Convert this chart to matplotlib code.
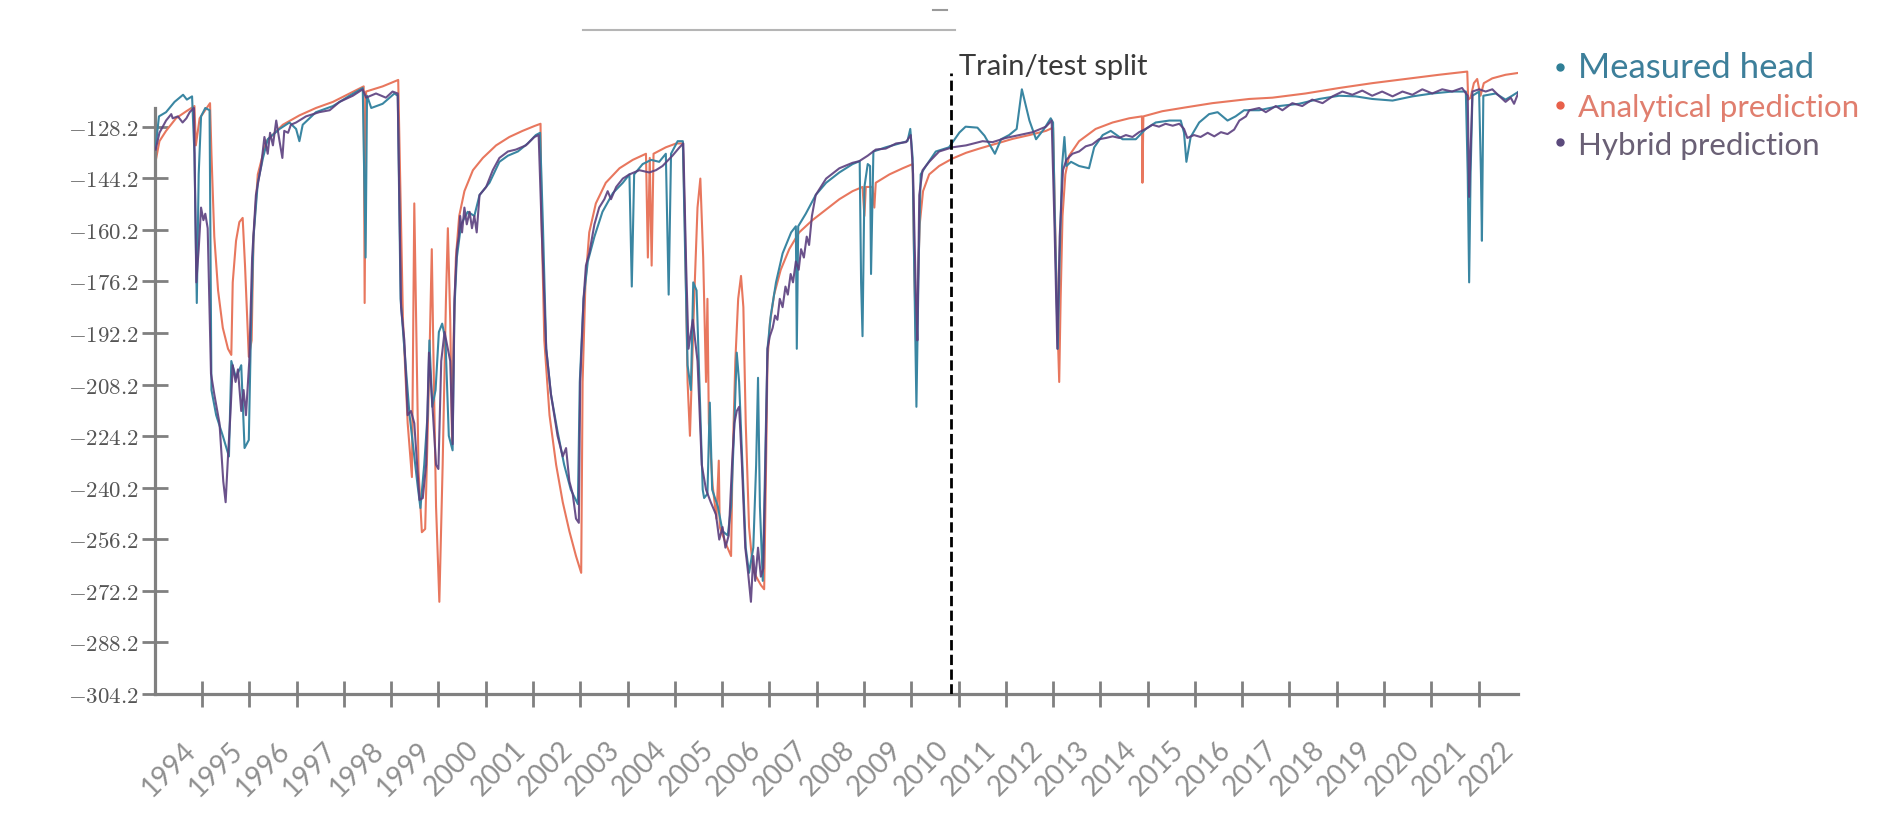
import matplotlib.pyplot as plt
from matplotlib.lines import Line2D

plt.rcParams['mathtext.fontset'] = 'cm'

# ---- data (x in axis-year units) ----
measured_year = [
    1993.02, 1993.09, 1993.24, 1993.42, 1993.60, 1993.68, 1993.79, 1993.84, 1993.89, 1993.93,
    1993.98, 1994.07, 1994.16, 1994.20, 1994.30, 1994.44, 1994.57, 1994.62, 1994.72, 1994.83,
    1994.90, 1994.99, 1995.04, 1995.09, 1995.18, 1995.29, 1995.39, 1995.64, 1995.85, 1995.99,
    1996.06, 1996.13, 1996.41, 1996.77, 1997.12, 1997.40, 1997.46, 1997.49, 1997.58, 1997.82,
    1998.07, 1998.14, 1998.20, 1998.28, 1998.39, 1998.56, 1998.62, 1998.70, 1998.77, 1998.81,
    1998.87, 1998.94, 1999.01, 1999.08, 1999.15, 1999.22, 1999.30, 1999.34, 1999.39, 1999.48,
    1999.62, 1999.76, 1999.87, 2000.08, 2000.29, 2000.47, 2000.68, 2000.89, 2001.06, 2001.15,
    2001.21, 2001.28, 2001.38, 2001.52, 2001.66, 2001.80, 2001.95, 2001.99, 2002.07, 2002.16,
    2002.30, 2002.47, 2002.69, 2002.90, 2003.04, 2003.09, 2003.14, 2003.32, 2003.50, 2003.67,
    2003.81, 2003.87, 2003.92, 2004.06, 2004.17, 2004.22, 2004.27, 2004.34, 2004.39, 2004.46,
    2004.53, 2004.59, 2004.62, 2004.69, 2004.74, 2004.79, 2004.91, 2005.01, 2005.12, 2005.19,
    2005.26, 2005.31, 2005.36, 2005.43, 2005.50, 2005.57, 2005.66, 2005.72, 2005.76, 2005.80,
    2005.86, 2005.91, 2005.96, 2006.03, 2006.14, 2006.28, 2006.46, 2006.56, 2006.58, 2006.61,
    2006.77, 2006.98, 2007.20, 2007.48, 2007.76, 2007.91, 2007.94, 2007.97, 2008.01, 2008.08,
    2008.13, 2008.15, 2008.20, 2008.46, 2008.75, 2008.92, 2008.98, 2009.03, 2009.06, 2009.11,
    2009.16, 2009.20, 2009.31, 2009.52, 2009.80, 2010.02, 2010.15, 2010.40, 2010.55, 2010.77,
    2010.90, 2011.07, 2011.23, 2011.34, 2011.50, 2011.64, 2011.81, 2011.95, 2012.00, 2012.04,
    2012.10, 2012.14, 2012.19, 2012.24, 2012.28, 2012.38, 2012.55, 2012.76, 2012.87, 2013.05,
    2013.22, 2013.47, 2013.75, 2013.96, 2014.17, 2014.46, 2014.70, 2014.77, 2014.82, 2014.91,
    2015.09, 2015.30, 2015.48, 2015.69, 2015.86, 2016.04, 2016.36, 2016.78, 2017.20, 2017.63,
    2018.05, 2018.40, 2018.75, 2019.18, 2019.60, 2020.02, 2020.44, 2020.73, 2020.77, 2020.80,
    2020.83, 2020.87, 2021.01, 2021.05, 2021.07, 2021.10, 2021.36, 2021.57, 2021.71, 2021.85]
measured_head = [
    -134.6, -125.0, -123.7, -120.5, -118.3, -119.8, -118.8, -136.6, -182.9, -143.0,
    -125.0, -122.4, -123.1, -209.9, -217.7, -224.1, -230.5, -200.9, -206.1, -202.2,
    -227.9, -225.4, -188.1, -162.3, -145.6, -137.9, -132.1, -128.9, -126.9, -128.9,
    -132.7, -127.6, -123.7, -121.8, -118.6, -116.2, -168.8, -118.6, -122.4, -121.1,
    -117.9, -118.6, -181.6, -197.1, -217.7, -239.5, -246.5, -233.1, -217.7, -194.5,
    -215.1, -209.9, -191.9, -189.3, -194.5, -224.1, -228.6, -184.2, -168.8, -158.5,
    -154.6, -155.9, -149.4, -145.6, -139.1, -137.2, -135.9, -133.4, -130.8, -130.1,
    -158.5, -197.1, -211.2, -222.8, -233.1, -240.8, -245.3, -207.4, -181.6, -170.0,
    -162.3, -154.6, -148.8, -145.6, -143.0, -177.8, -143.0, -139.8, -138.5, -139.1,
    -136.6, -180.3, -136.6, -132.7, -132.7, -168.8, -202.2, -209.9, -176.5, -179.0,
    -212.5, -240.8, -243.4, -242.1, -213.8, -240.8, -246.0, -253.7, -255.0, -246.0,
    -220.2, -198.3, -207.4, -233.1, -258.8, -266.6, -258.8, -233.1, -206.1, -246.0,
    -269.1, -233.1, -197.1, -186.8, -176.5, -167.5, -161.0, -159.1, -197.1, -159.1,
    -155.2, -149.4, -145.6, -142.4, -139.8, -138.9, -176.5, -193.2, -146.9, -139.8,
    -140.4, -173.9, -135.9, -134.6, -133.4, -132.7, -128.9, -137.9, -168.8, -215.1,
    -168.8, -143.0, -140.4, -135.9, -134.6, -130.0, -128.2, -128.5, -131.0, -136.6,
    -132.1, -130.8, -128.9, -116.6, -126.3, -132.1, -128.9, -125.6, -126.9, -158.5,
    -197.1, -168.8, -140.4, -131.4, -140.4, -139.1, -140.4, -141.1, -134.6, -130.8,
    -129.5, -132.1, -132.1, -128.9, -126.9, -126.3, -126.3, -130.1, -139.1, -131.4,
    -126.9, -124.3, -123.7, -126.3, -125.0, -123.1, -123.1, -121.8, -121.1, -119.6,
    -118.6, -118.8, -119.6, -120.1, -118.8, -117.9, -117.3, -117.3, -143.0, -176.5,
    -143.0, -118.6, -117.3, -143.0, -163.6, -118.6, -117.9, -119.8, -118.6, -117.3]

analytical_year = [
    1993.00, 1993.10, 1993.24, 1993.45, 1993.67, 1993.84, 1993.87, 1993.95, 1994.17, 1994.20,
    1994.26, 1994.34, 1994.44, 1994.55, 1994.62, 1994.65, 1994.72, 1994.79, 1994.86, 1994.91,
    1994.99, 1995.05, 1995.09, 1995.18, 1995.36, 1995.71, 1996.06, 1996.41, 1996.77, 1997.12,
    1997.42, 1997.44, 1997.47, 1997.82, 1998.15, 1998.19, 1998.25, 1998.35, 1998.44, 1998.49,
    1998.53, 1998.58, 1998.65, 1998.72, 1998.80, 1998.86, 1998.89, 1998.95, 1999.02, 1999.09,
    1999.16, 1999.20, 1999.25, 1999.29, 1999.32, 1999.37, 1999.44, 1999.55, 1999.73, 1999.94,
    2000.22, 2000.50, 2000.78, 2001.03, 2001.16, 2001.18, 2001.24, 2001.35, 2001.49, 2001.63,
    2001.77, 2001.91, 2002.02, 2002.05, 2002.11, 2002.19, 2002.33, 2002.54, 2002.83, 2003.11,
    2003.39, 2003.43, 2003.47, 2003.51, 2003.55, 2003.81, 2004.03, 2004.17, 2004.21, 2004.27,
    2004.32, 2004.41, 2004.48, 2004.54, 2004.60, 2004.66, 2004.69, 2004.72, 2004.80, 2004.88,
    2004.93, 2004.95, 2005.08, 2005.19, 2005.22, 2005.28, 2005.34, 2005.40, 2005.45, 2005.50,
    2005.57, 2005.65, 2005.72, 2005.82, 2005.89, 2005.93, 2005.96, 2006.01, 2006.10, 2006.24,
    2006.42, 2006.63, 2006.91, 2007.20, 2007.48, 2007.76, 2007.97, 2008.01, 2008.04, 2008.18,
    2008.22, 2008.25, 2008.54, 2008.82, 2009.03, 2009.06, 2009.10, 2009.13, 2009.18, 2009.25,
    2009.38, 2009.59, 2009.87, 2010.16, 2010.44, 2010.79, 2011.14, 2011.50, 2011.85, 2012.00,
    2012.04, 2012.09, 2012.13, 2012.16, 2012.20, 2012.26, 2012.34, 2012.55, 2012.90, 2013.26,
    2013.61, 2013.88, 2013.89, 2013.91, 2014.31, 2014.81, 2015.37, 2016.15, 2016.64, 2017.34,
    2018.05, 2018.75, 2019.46, 2020.16, 2020.76, 2020.78, 2020.83, 2020.90, 2020.97, 2021.04,
    2021.11, 2021.29, 2021.57, 2021.85]
analytical_head = [
    -140.4, -132.7, -129.5, -125.6, -123.4, -121.8, -134.0, -125.6, -120.9, -136.6,
    -162.3, -179.0, -190.6, -197.1, -199.0, -176.5, -163.6, -157.8, -156.5, -171.3,
    -199.6, -194.5, -162.3, -143.0, -132.7, -127.6, -124.7, -122.4, -120.5, -117.9,
    -115.7, -182.9, -117.3, -115.7, -113.7, -143.0, -188.0, -220.2, -236.9, -152.0,
    -188.0, -235.0, -254.0, -253.0, -207.4, -166.2, -194.5, -246.0, -275.6, -233.1,
    -181.6, -159.7, -188.1, -226.7, -194.5, -168.8, -155.9, -148.2, -141.7, -137.9,
    -134.0, -131.4, -129.5, -128.0, -127.3, -155.9, -194.5, -217.7, -233.1, -244.7,
    -253.7, -261.4, -266.6, -207.4, -176.5, -161.0, -152.0, -145.6, -141.1, -138.5,
    -136.6, -168.8, -137.9, -171.3, -136.6, -134.6, -133.4, -133.4, -155.9, -207.4,
    -224.1, -181.6, -153.3, -144.3, -168.8, -207.4, -181.6, -220.2, -239.5, -249.8,
    -231.8, -252.4, -257.6, -261.4, -233.1, -200.9, -181.6, -174.5, -184.2, -220.2,
    -252.4, -265.3, -267.8, -270.4, -271.7, -233.1, -200.9, -189.3, -180.3, -172.6,
    -166.2, -161.0, -157.2, -153.9, -150.7, -148.2, -146.9, -155.9, -146.9, -146.9,
    -153.3, -145.6, -143.0, -141.1, -139.8, -168.8, -194.5, -181.6, -158.5, -148.2,
    -143.0, -140.4, -138.1, -136.3, -135.0, -133.5, -132.0, -130.8, -129.5, -128.5,
    -155.9, -188.1, -207.4, -181.6, -155.9, -143.0, -137.2, -132.7, -128.9, -126.9,
    -125.6, -125.0, -145.6, -125.0, -123.4, -122.2, -120.9, -119.6, -119.2, -117.9,
    -116.2, -114.7, -113.4, -112.1, -111.1, -119.8, -119.2, -114.7, -113.4, -118.6,
    -114.7, -113.2, -112.1, -111.5]

hybrid_year = [
    1993.02, 1993.10, 1993.24, 1993.35, 1993.38, 1993.49, 1993.59, 1993.67, 1993.74, 1993.83,
    1993.88, 1993.93, 1993.98, 1994.03, 1994.07, 1994.12, 1994.19, 1994.26, 1994.37, 1994.45,
    1994.50, 1994.55, 1994.60, 1994.65, 1994.71, 1994.76, 1994.83, 1994.88, 1994.93, 1995.00,
    1995.06, 1995.14, 1995.25, 1995.32, 1995.39, 1995.44, 1995.50, 1995.57, 1995.64, 1995.70,
    1995.74, 1995.82, 1995.88, 1995.99, 1996.20, 1996.48, 1996.70, 1996.91, 1997.19, 1997.40,
    1997.47, 1997.68, 1997.89, 1998.03, 1998.14, 1998.21, 1998.28, 1998.35, 1998.42, 1998.49,
    1998.60, 1998.67, 1998.74, 1998.80, 1998.87, 1998.95, 1999.00, 1999.06, 1999.13, 1999.20,
    1999.25, 1999.30, 1999.34, 1999.39, 1999.43, 1999.46, 1999.50, 1999.55, 1999.60, 1999.66,
    1999.71, 1999.76, 1999.81, 1999.87, 2000.01, 2000.15, 2000.29, 2000.47, 2000.64, 2000.85,
    2001.03, 2001.12, 2001.19, 2001.28, 2001.38, 2001.52, 2001.63, 2001.70, 2001.77, 2001.84,
    2001.91, 2001.97, 2002.00, 2002.07, 2002.12, 2002.19, 2002.30, 2002.40, 2002.51, 2002.58,
    2002.65, 2002.76, 2002.90, 2003.04, 2003.25, 2003.46, 2003.60, 2003.74, 2003.95, 2004.10,
    2004.18, 2004.24, 2004.29, 2004.38, 2004.48, 2004.57, 2004.66, 2004.76, 2004.87, 2004.94,
    2005.01, 2005.07, 2005.14, 2005.21, 2005.26, 2005.31, 2005.36, 2005.42, 2005.49, 2005.55,
    2005.61, 2005.66, 2005.70, 2005.76, 2005.82, 2005.87, 2005.91, 2005.96, 2006.01, 2006.07,
    2006.12, 2006.17, 2006.22, 2006.28, 2006.34, 2006.39, 2006.45, 2006.50, 2006.56, 2006.62,
    2006.67, 2006.73, 2006.79, 2006.84, 2006.90, 2006.98, 2007.20, 2007.48, 2007.76, 2007.90,
    2008.08, 2008.25, 2008.46, 2008.68, 2008.89, 2008.99, 2009.04, 2009.10, 2009.13, 2009.17,
    2009.24, 2009.38, 2009.59, 2009.87, 2010.16, 2010.51, 2010.72, 2011.00, 2011.28, 2011.57,
    2011.85, 2011.97, 2012.03, 2012.09, 2012.14, 2012.21, 2012.28, 2012.41, 2012.55, 2012.69,
    2012.83, 2012.97, 2013.12, 2013.26, 2013.40, 2013.54, 2013.68, 2013.82, 2013.96, 2014.10,
    2014.24, 2014.38, 2014.53, 2014.67, 2014.77, 2014.84, 2014.98, 2015.12, 2015.27, 2015.41,
    2015.55, 2015.69, 2015.83, 2015.94, 2016.08, 2016.15, 2016.36, 2016.50, 2016.71, 2016.85,
    2017.06, 2017.27, 2017.48, 2017.70, 2017.91, 2018.12, 2018.33, 2018.54, 2018.75, 2018.96,
    2019.18, 2019.39, 2019.60, 2019.81, 2020.02, 2020.23, 2020.44, 2020.65, 2020.77, 2020.80,
    2020.87, 2021.01, 2021.15, 2021.29, 2021.43, 2021.57, 2021.68, 2021.75, 2021.85]
hybrid_head = [
    -135.3, -130.1, -126.3, -124.3, -125.6, -125.0, -126.9, -125.6, -123.7, -122.4,
    -176.5, -166.2, -153.3, -157.2, -155.2, -159.7, -204.8, -211.2, -220.2, -238.2,
    -244.7, -230.5, -217.7, -202.2, -207.4, -203.5, -216.4, -209.9, -217.7, -200.9,
    -168.8, -149.4, -140.4, -131.4, -136.6, -130.1, -134.0, -126.3, -132.7, -137.9,
    -129.5, -130.1, -127.6, -126.9, -125.0, -123.7, -123.1, -120.5, -118.6, -116.6,
    -119.2, -117.9, -119.2, -117.3, -117.9, -184.2, -194.5, -217.7, -216.4, -220.2,
    -244.0, -243.4, -233.1, -198.3, -213.8, -233.1, -234.4, -200.9, -191.9, -197.1,
    -200.9, -226.7, -181.6, -166.2, -162.3, -155.9, -161.0, -153.3, -158.5, -154.6,
    -159.7, -155.9, -161.0, -149.4, -146.9, -141.7, -137.9, -135.9, -135.3, -134.0,
    -131.4, -130.8, -162.3, -197.1, -211.2, -224.1, -230.5, -227.9, -238.2, -242.1,
    -249.8, -251.1, -207.4, -181.6, -171.3, -167.5, -158.5, -153.3, -150.7, -148.2,
    -150.7, -146.9, -144.3, -143.0, -141.7, -142.4, -141.7, -140.4, -137.2, -134.6,
    -133.4, -171.3, -197.1, -188.1, -200.9, -233.1, -240.8, -244.7, -248.5, -256.3,
    -252.4, -258.8, -255.0, -233.1, -220.2, -216.4, -215.1, -233.1, -258.8, -266.6,
    -275.6, -261.4, -269.1, -258.8, -267.8, -265.3, -239.5, -197.1, -193.2, -190.6,
    -186.8, -188.1, -181.6, -184.2, -177.8, -180.3, -173.9, -176.5, -170.0, -172.6,
    -166.2, -168.8, -162.3, -164.9, -155.9, -149.4, -144.3, -141.1, -139.4, -138.9,
    -137.2, -135.3, -135.0, -133.4, -133.0, -130.8, -143.0, -181.6, -194.5, -149.4,
    -141.7, -139.1, -135.9, -134.6, -134.0, -132.7, -133.0, -131.7, -130.8, -129.9,
    -128.2, -126.3, -158.5, -197.1, -162.3, -141.7, -138.5, -136.6, -135.9, -134.3,
    -133.7, -132.1, -131.7, -131.2, -131.7, -130.8, -131.4, -129.9, -128.9, -127.6,
    -128.2, -127.3, -127.9, -127.3, -128.9, -131.7, -130.8, -131.4, -130.1, -131.2,
    -129.9, -130.5, -129.1, -126.3, -125.0, -123.1, -122.4, -123.7, -121.8, -123.1,
    -120.9, -121.8, -119.8, -120.9, -118.8, -117.3, -118.3, -117.0, -118.6, -117.3,
    -118.8, -117.3, -118.3, -116.6, -117.9, -116.6, -117.3, -116.2, -118.6, -150.0,
    -117.3, -116.6, -117.3, -116.6, -118.6, -120.5, -119.2, -121.1, -117.3]

split_year = 2009.84
y_ticks = [-304.2, -288.2, -272.2, -256.2, -240.2, -224.2, -208.2,
           -192.2, -176.2, -160.2, -144.2, -128.2]
tick_years = list(range(1994, 2022))
year_labels = [str(y) for y in range(1994, 2023)]

fig = plt.figure(figsize=(18.96, 8.16), dpi=100)
ax = fig.add_axes([0.0816, 0.1495, 0.7192, 0.7869])

ax.plot(analytical_year, analytical_head, color='#e8775e', lw=1.5, zorder=2)
ax.plot(measured_year, measured_head, color='#3a86a2', lw=1.5, zorder=3)
ax.plot(hybrid_year, hybrid_head, color='#5b3f7f', lw=1.5, alpha=0.9, zorder=4)

# train/test split marker
ax.plot([split_year, split_year], [-304.2, -111.5], color='black', ls='--', lw=2.0, zorder=5)
ax.text(split_year + 0.17, -109.6, 'Train/test split', family='Lato', fontsize=21,
        color='#3a3a3a', va='center', ha='left')

ax.set_xlim(1993.0, 2021.82)
ax.set_ylim(-304.2, -105)

for side in ['top', 'right']:
    ax.spines[side].set_visible(False)
for side in ['left', 'bottom']:
    ax.spines[side].set_color('#808080')
    ax.spines[side].set_linewidth(2.3)
ax.spines['left'].set_bounds(-304.2, -122.4)

ax.set_yticks(y_ticks)
ax.set_yticklabels([f'${v:.1f}$' for v in y_ticks])
ax.set_xticks(tick_years)
ax.set_xticklabels([])
label_pos = [1993.98 + 0.995 * i for i in range(len(year_labels))]
ax.set_xticks(label_pos, labels=year_labels, minor=True)

ax.tick_params(axis='both', which='major', direction='inout', length=19, width=2,
               color='#808080')
ax.tick_params(axis='y', labelsize=16.5, labelcolor='#555555', pad=2)
ax.tick_params(axis='x', which='minor', length=0, pad=31, labelsize=20,
               labelcolor='#8f8f8f', labelrotation=45)
for lab in ax.get_xticklabels(minor=True):
    lab.set_ha('right')
    lab.set_family('Lato')

# legend (outside, right)
legend_items = [
    ('Measured head', '#2f7f96', '#3d7f9a', 25, 0.9175, 0.9040),
    ('Analytical prediction', '#e8604a', '#e07e6e', 22.5, 0.8710, 0.8566),
    ('Hybrid prediction', '#5b4a7c', '#6a6075', 22.5, 0.8262, 0.8100),
]
for name, dot_col, txt_col, size, y_dot, y_txt in legend_items:
    fig.add_artist(Line2D([0.8228], [y_dot], transform=fig.transFigure, marker='o',
                          ms=5, ls='', color=dot_col))
    fig.text(0.8325, y_txt, name, family='Lato', fontsize=size, color=txt_col,
             va='baseline', ha='left')

# leftover slide decoration at top
fig.add_artist(Line2D([0.3075, 0.5037], [0.9632, 0.9632], transform=fig.transFigure,
                      color='#b5b5b5', lw=1.5))
fig.add_artist(Line2D([0.4921, 0.4995], [0.9877, 0.9877], transform=fig.transFigure,
                      color='#9a9a9a', lw=1.5))

fig.savefig('out.png', dpi=100)
